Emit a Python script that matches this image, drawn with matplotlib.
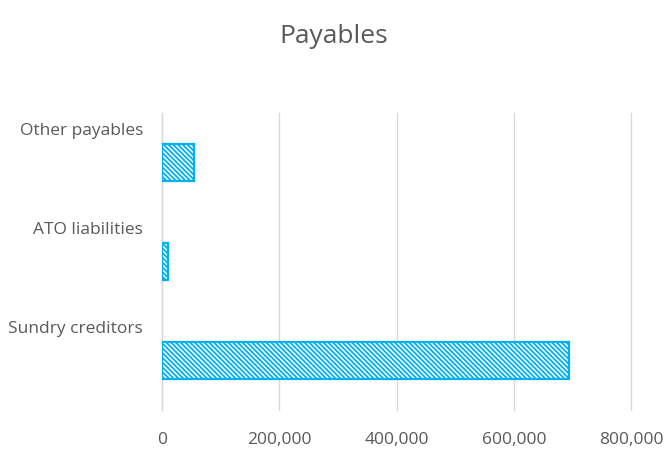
import matplotlib.pyplot as plt
from matplotlib.ticker import FuncFormatter
import matplotlib.transforms as mtransforms

# kategorie i wartosci
categories = ['Sundry creditors', 'ATO liabilities', 'Other payables']
values = [695000, 10000, 55000]
x_ticks = [0, 200000, 400000, 600000, 800000]

plt.rcParams['font.family'] = ['Open Sans', 'DejaVu Sans']
plt.rcParams['hatch.linewidth'] = 1.3
plt.rcParams['hatch.color'] = '#00B0F0'

fig = plt.figure(figsize=(6.67, 4.5), dpi=100)
ax = fig.add_axes([0.243, 0.089, 0.703, 0.660])

pos = list(range(len(categories)))
ax.barh(pos, values, height=0.37, color='white', edgecolor='#00B0F0',
        linewidth=1.6, hatch='\\' * 7, zorder=3)

ax.set_xlim(0, 800000)
ax.set_ylim(-0.5, len(categories) - 0.5)
ax.set_xticks(x_ticks)
ax.xaxis.set_major_formatter(FuncFormatter(lambda v, p: f'{int(v):,}'))
ax.grid(axis='x', color='#D9D9D9', linewidth=1.0, zorder=0)
for gl in ax.get_xgridlines():
    gl.set_clip_on(False)
ax.tick_params(axis='x', length=0, labelsize=12.5, labelcolor='#595959', pad=16)
ax.tick_params(axis='y', length=0)
ax.set_yticks(pos)
ax.set_yticklabels(categories, fontsize=12.5, color='#595959')
# etykiety w Excelu sa przesuniete nad slupki
offset = mtransforms.ScaledTranslation(-0.14, 0.33, fig.dpi_scale_trans)
for lab in ax.get_yticklabels():
    lab.set_transform(lab.get_transform() + offset)

for s in ['top', 'right', 'bottom']:
    ax.spines[s].set_visible(False)
ax.spines['left'].set_color('#D9D9D9')
ax.spines['left'].set_linewidth(1.0)

fig.text(0.5, 0.918, 'Payables', ha='center', va='center', fontsize=19, color='#595959')

fig.savefig('out.png', dpi=100)
